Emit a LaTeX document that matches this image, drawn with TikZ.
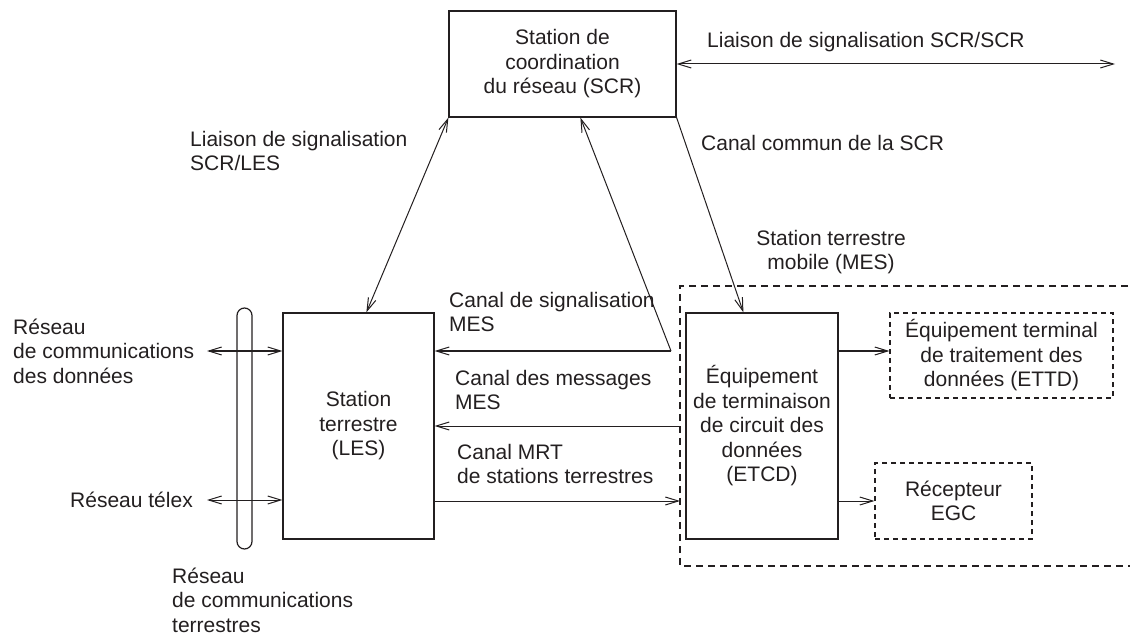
\documentclass[tikz,border=0pt]{standalone}
\usepackage{fontspec}
\setmainfont{Liberation Sans}
\usetikzlibrary{arrows.meta,calc}
\definecolor{ink}{RGB}{35,31,32}
\begin{document}
\begin{tikzpicture}[x=1pt,y=-1pt,
  every node/.style={text=ink},
  lab/.style={font=\fontsize{21}{24.5}\selectfont, inner sep=0pt},
  solidbox/.style={draw=ink, line width=1.2pt, lab, align=center},
  dashbox/.style={draw=ink, line width=1.1pt, dash pattern=on 5pt off 4pt, lab, align=center},
  conn/.style={draw=ink, line width=1pt},
  >={Straight Barb[length=13pt,width=8pt,line width=1pt]}
]
\useasboundingbox (0,0) rectangle (1130,636);

% boxes
\node[solidbox, minimum width=227pt, minimum height=106pt] (scr) at (562.5,64) {Station de\\coordination\\du réseau (SCR)};
\node[solidbox, minimum width=151pt, minimum height=226pt] (les) at (358.5,426) {Station\\terrestre\\(LES)};
\node[solidbox, minimum width=152pt, minimum height=226pt] (etcd) at (762,426) {Équipement\\de terminaison\\de circuit des\\données\\(ETCD)};
\node[dashbox, minimum width=223pt, minimum height=85pt] (ettd) at (1001.5,355.5) {Équipement terminal\\de traitement des\\données (ETTD)};
\node[dashbox, minimum width=157pt, minimum height=76pt] (egc) at (953.5,501) {Récepteur\\EGC};
\node[draw=ink, line width=1.2pt, rounded corners=7.5pt, minimum width=15pt, minimum height=241pt, inner sep=0pt] (bar) at (244.5,428.5) {};

% MES dashed region (right side beyond picture)
\coordinate (mesTL) at (680,286);
\coordinate (mesBL) at (680,566);
\draw[draw=ink, line width=1.1pt, dash pattern=on 7pt off 5pt] (1140,286) -- (mesTL) -- (mesBL) -- (1140,566);

% coordinates for connector ends
\coordinate (scrR) at (1115,64);
\coordinate (sigc) at (671,351);
\coordinate (msgR) at (680,426);
\coordinate (mrtR) at (680,501);
\coordinate (dataL) at (207,351);
\coordinate (telexL) at (207,500);

% connectors
\draw[conn,<->] (scr.east) -- (scrR);
\draw[conn,<->] (scr.south west) -- ($(les.north west)+(84,0)$);
\draw[conn,->] (sigc) -- (sigc -| les.east);
\draw[conn,->] (sigc) -- ($(scr.south west)+(132,0)$);
\draw[conn,->] (msgR) -- (msgR -| les.east);
\draw[conn,->] (mrtR -| les.east) -- (mrtR);
\draw[conn,->] (scr.south east) -- ($(etcd.north west)+(58,0)$);
\draw[conn,->] (sigc -| etcd.east) -- (sigc -| ettd.west);
\draw[conn,->] (egc.west -| etcd.east) -- (egc.west);
\draw[conn,<->] (dataL) -- (dataL -| les.west);
\draw[conn,<->] (telexL) -- (telexL -| les.west);

% labels
\node[lab, anchor=west] (l1) at (707,42) {Liaison de signalisation SCR/SCR};
\node[lab, anchor=west, align=left] (l2) at (190,151) {Liaison de signalisation\\SCR/LES};
\node[lab, anchor=west] (l3) at (701,143) {Canal commun de la SCR};
\node[lab, align=center] (l4) at (831,252) {Station terrestre\\mobile (MES)};
\node[lab, anchor=west, align=left] (l5) at (449,312) {Canal de signalisation\\MES};
\node[lab, anchor=west, align=left] (l6) at (455,390) {Canal des messages\\MES};
\node[lab, anchor=west, align=left] (l7) at (457,464) {Canal MRT\\de stations terrestres};
\node[lab, anchor=west, align=left] (l8) at (13,351) {Réseau\\de communications\\des données};
\node[lab, anchor=east] (l9) at (193,500) {Réseau télex};
\node[lab, anchor=west, align=left] (l10) at (172,600) {Réseau\\de communications\\terrestres};
\end{tikzpicture}
\end{document}
